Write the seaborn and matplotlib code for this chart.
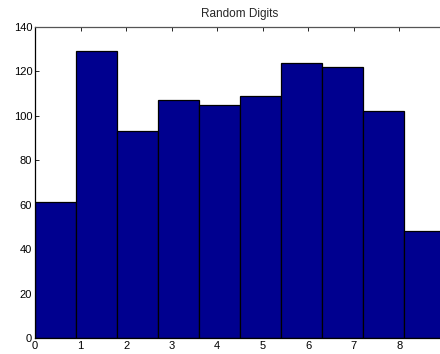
import matplotlib
matplotlib.use("Agg")
import matplotlib.pyplot as plt
import seaborn as sns
import numpy as np

digits = [0, 1, 2, 3, 4, 5, 6, 7, 8, 9]
counts = [61, 129, 93, 107, 105, 109, 124, 122, 102, 48]
xticks = [0, 1, 2, 3, 4, 5, 6, 7, 8]
yticks = [0, 20, 40, 60, 80, 100, 120, 140]
title = "Random Digits"

sns.set_style("ticks")
plt.rcParams['font.family'] = ['Liberation Sans', 'DejaVu Sans']

fig = plt.figure(figsize=(4.4, 3.54), dpi=100)
ax = fig.add_axes([35/440, 16/354, 410/440, 311/354])

sns.histplot(x=digits, weights=counts, bins=10, binrange=(0, 9),
             color="#00008F", edgecolor="black", linewidth=0.9,
             alpha=1.0, ax=ax)

ax.set_xlim(0, 9)
ax.set_ylim(0, 140)
ax.set_xticks(xticks)
ax.set_yticks(yticks)
ax.set_xlabel("")
ax.set_ylabel("")
ax.set_title(title, fontsize=8.5, pad=7)
ax.tick_params(direction="in", length=3, width=0.6, labelsize=8,
               top=True, right=True, pad=2, colors="black")
for s in ax.spines.values():
    s.set_color("black")
    s.set_linewidth(0.9)
ax.spines['top'].set_color("#555555")

fig.savefig("out.png", dpi=100)
